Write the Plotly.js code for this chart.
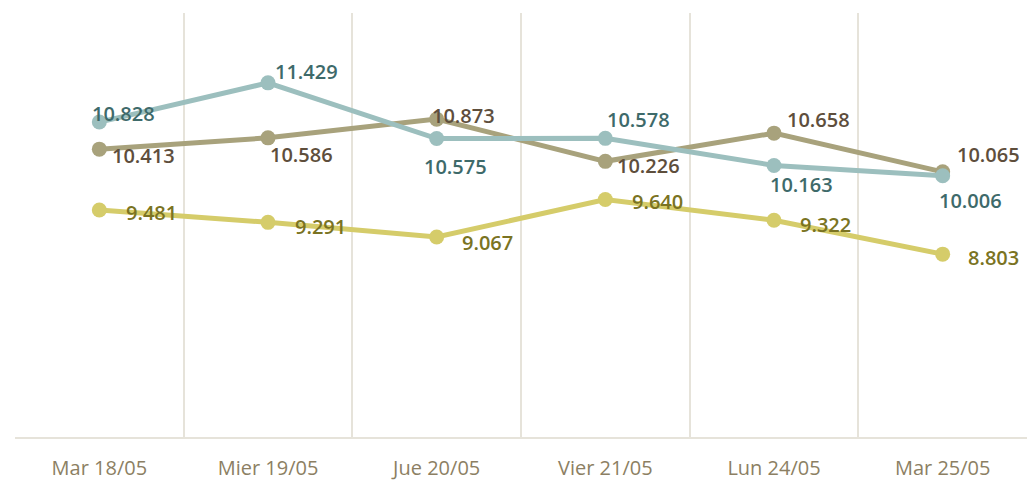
<!DOCTYPE html>
<html>
<head>
<meta charset="utf-8">
<script src="https://cdn.plot.ly/plotly-3.0.1.min.js"></script>
<style>html,body{margin:0;padding:0;background:#fff;}#chart{width:1027px;height:492px;}</style>
</head>
<body>
<div id="chart"></div>
<script>
const categories = ["Mar 18/05", "Mier 19/05", "Jue 20/05", "Vier 21/05", "Lun 24/05", "Mar 25/05"];
const seriesTeal = [10.828, 11.429, 10.575, 10.578, 10.163, 10.006];
const seriesKhaki = [10.413, 10.586, 10.873, 10.226, 10.658, 10.065];
const seriesYellow = [9.481, 9.291, 9.067, 9.640, 9.322, 8.803];

// label offsets (style), px
const offTeal = [[24,-9],[38,-11],[19,28],[33,-19],[27,19],[28,25]];
const offKhaki = [[44,6],[33,17],[27,-4],[43,4],[44,-14],[46,-17]];
const offYellow = [[52,3],[52,4],[51,6],[52,2],[51,4],[51,3]];

const styles = [
  {vals: seriesKhaki, line: "#a8a27c", text: "#5e4e3c", off: offKhaki},
  {vals: seriesTeal, line: "#9cbfbe", text: "#3e6a6a", off: offTeal},
  {vals: seriesYellow, line: "#d5cc6a", text: "#7a7322", off: offYellow}
];

const traces = styles.map(s => ({
  x: categories, y: s.vals, type: "scatter", mode: "lines+markers",
  line: {color: s.line, width: 5},
  marker: {color: s.line, size: 15},
  hoverinfo: "skip", showlegend: false, cliponaxis: false
}));

const annotations = [];
styles.forEach(s => {
  s.vals.forEach((v, i) => {
    annotations.push({
      x: categories[i], y: v, xref: "x", yref: "y",
      text: v.toFixed(3), showarrow: false,
      xshift: s.off[i][0], yshift: -s.off[i][1],
      font: {family: "Open Sans, Noto Sans, sans-serif", size: 20, color: s.text, weight: 600}
    });
  });
});

const layout = {
  width: 1027, height: 492,
  margin: {l: 15, r: 0, t: 13, b: 55},
  paper_bgcolor: "#ffffff", plot_bgcolor: "#ffffff",
  xaxis: {
    type: "category", range: [-0.5, 5.5], tickson: "boundaries",
    showgrid: true, gridcolor: "#e6e3da", gridwidth: 2,
    showline: true, linecolor: "#e6e3da", linewidth: 2,
    ticks: "", ticklabelstandoff: 12,
    tickfont: {family: "Open Sans, Noto Sans, sans-serif", size: 20, color: "#8c7f63"},
    zeroline: false, fixedrange: true
  },
  yaxis: {
    range: [6, 12.5], showgrid: false, zeroline: false, showticklabels: false,
    showline: false, ticks: "", fixedrange: true
  },
  annotations: annotations
};

Plotly.newPlot("chart", traces, layout, {displayModeBar: false, staticPlot: true});
</script>
</body>
</html>
